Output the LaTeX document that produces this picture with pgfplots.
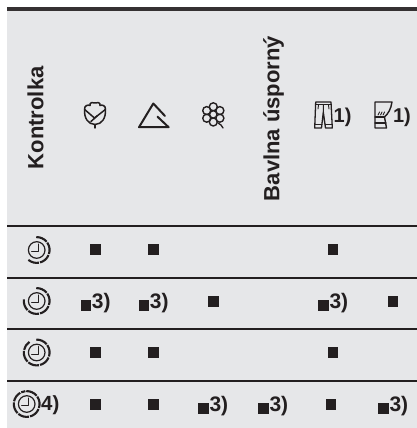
\documentclass[border=0pt]{standalone}
\usepackage{pgfplots}
\pgfplotsset{compat=1.18}
\usepackage{fontspec}
\setmainfont{Liberation Sans}
\definecolor{panel}{HTML}{E6E7E9}
\definecolor{ink}{HTML}{231F20}
\newcommand{\clocksegs}[4]{% cx cy r list of start/end
  \foreach \a/\b in {#4}{\draw[ink,line width=2.1pt,line cap=butt] (#1,#2) ++(\a:#3pt) arc[start angle=\a,end angle=\b,radius=#3pt];}}
\newcommand{\clockface}[2]{%
  \draw[ink,line width=1.2pt] (#1,#2) circle[radius=8.3pt];
  \draw[ink,line width=1pt] (#1+2.2,#2-6) -- (#1+2.2,#2+1.8) -- (#1-5,#2+1.8);}
\begin{document}
\begin{tikzpicture}
\useasboundingbox (0,0) rectangle (417pt,428pt);
\begin{axis}[
  at={(0,0)},anchor=south west,
  width=417pt,height=428pt,scale only axis,
  xmin=0,xmax=417,ymin=0,ymax=428,y dir=reverse,
  hide axis,clip=false]
% background and rules
\addplot[draw=none,fill=panel,forget plot] coordinates {(7,7)(417,7)(417,428)(7,428)} -- cycle;
\addplot[ink!92,line width=3.2pt,forget plot] coordinates {(7,9)(417,9)};
\addplot[ink,line width=1.9pt,forget plot] coordinates {(7,226)(417,226)};
\addplot[ink,line width=1.9pt,forget plot] coordinates {(7,277.7)(417,277.7)};
\addplot[ink,line width=1.9pt,forget plot] coordinates {(7,329.3)(417,329.3)};
\addplot[ink,line width=1.9pt,forget plot] coordinates {(7,380.7)(417,380.7)};
% plain squares
\addplot[only marks,mark=square*,mark size=4.9pt,ink,mark options={draw=none,fill=ink}] coordinates {
(95,249.5)(153,249.5)(332.7,249.5)
(213,301)(392.7,301)
(95,352.5)(153,352.5)(332.7,352.5)
(95,404)(153,404)(330.7,404)};
% squares with note 3)
\addplot[only marks,mark=square*,mark size=4.9pt,ink,mark options={draw=none,fill=ink},
  nodes near coords={3)},
  every node near coord/.style={anchor=base west,inner sep=0pt,xshift=6pt,yshift=-3.4pt,
    font=\fontsize{21pt}{22pt}\selectfont\bfseries,text=ink}] coordinates {
(85.7,305)(143.7,305)(323.3,305)
(203.3,408.3)(263.3,408.3)(383.3,408.3)};
\end{axis}
\begin{scope}[x=1pt,y=-1pt,yshift=428pt,line cap=round,line join=round]
% header text
\node[rotate=90,anchor=base west,inner sep=0pt,text=ink,font=\fontsize{22pt}{24pt}\selectfont\bfseries] at (43.3,169.3) {Kontrolka};
\node[rotate=90,anchor=base west,inner sep=0pt,text=ink,font=\fontsize{22pt}{24pt}\selectfont\bfseries] at (279.3,201.3) {Bavlna úsporný};
\node[anchor=base west,inner sep=0pt,text=ink,font=\fontsize{20pt}{21pt}\selectfont\bfseries] at (333.5,122.5) {1)};
\node[anchor=base west,inner sep=0pt,text=ink,font=\fontsize{20pt}{21pt}\selectfont\bfseries] at (392.8,122.5) {1)};
\node[anchor=base west,inner sep=0pt,text=ink,font=\fontsize{20.5pt}{21pt}\selectfont\bfseries] at (41,410.7) {4)};
% cotton
\draw[ink,line width=1.5pt] (84.6,109.5) .. controls (84,118) and (88,124.3) .. (95,124.5) .. controls (102,124.3) and (106,118) .. (105.4,109.5);
\draw[ink,line width=1.5pt] (84.6,109.5) -- (94.5,118) -- (105.4,109.5);
\draw[ink,line width=1.5pt] (91,121.5) -- (97,116);
\draw[ink,line width=1.5pt] (95,124.5) -- (95,128);
\draw[ink,line width=1.5pt] (84.6,109.5) .. controls (84,105.5) and (88,104.5) .. (90,105.5) .. controls (89,102.5) and (93,102) .. (95,102.8) .. controls (97,102) and (101,102.5) .. (100,105.5) .. controls (102,104.5) and (106,105.5) .. (105.4,109.5);
% triangle
\draw[ink,line width=2pt] (165,116) -- (153.3,103.5) -- (139,127.2) -- (168.6,127.2) -- (157.5,116.7);
% flower
\foreach \t in {0,60,...,300}{\draw[ink,line width=1.4pt] (213.3,114.4) ++(\t+30:7.6pt) circle[radius=4pt];}
\fill[panel] (213.3,114.4) circle[radius=3.6pt];
\draw[ink,line width=1.2pt] (213.3,114.4) circle[radius=3.6pt];
\draw[ink,line width=1.3pt] (218,123) -- (221,125) -- (223,128);
% trousers
\draw[ink,line width=1.3pt] (315.7,102) -- (331,102) -- (332.3,128) -- (325.5,128) -- (323.3,112) -- (321.5,128) -- (314.7,128) -- cycle;
\draw[ink,line width=1pt] (315.5,105) -- (331.2,105);
\draw[ink,line width=1pt] (315,124.5) -- (321.8,124.5) (325.2,124.5) -- (332.2,124.5);
\draw[ink,line width=0.9pt] (318.5,105) -- (318,109) (328.5,105) -- (329,109) (323.3,105) -- (323.3,112);
% shirt/blender
\draw[ink,line width=1.4pt] (375,128) -- (375,102) -- (392,102) .. controls (391,109) and (388,114) .. (384.5,117) -- (386.5,128) -- cycle;
\draw[ink,line width=1.1pt] (375,117) -- (384.5,117);
\draw[ink,line width=1.1pt] (375,123) -- (386,123);
\draw[ink,line width=0.9pt] (378,115) -- (379.5,112) (380.5,115) -- (382,112) (383,115) -- (384.5,112);
% clocks
\clockface{36.7}{250}
\clocksegs{36.7}{250}{12.9}{92/40,35/-18,-23/-75,-80/-130}
\clockface{36.7}{301}
\clocksegs{36.7}{301}{12.9}{92/40,35/-18,-23/-75,-80/-130,-135/-187}
\clockface{36.7}{352.5}
\clocksegs{36.7}{352.5}{12.9}{92/40,35/-18,-23/-75,-80/-130,-135/-187,-192/-236}
\clockface{26.7}{404}
\clocksegs{26.7}{404}{12.9}{92/40,35/-18,-23/-75,-80/-130,-135/-187,-192/-240,-245/-264}
\end{scope}
\end{tikzpicture}
\end{document}
